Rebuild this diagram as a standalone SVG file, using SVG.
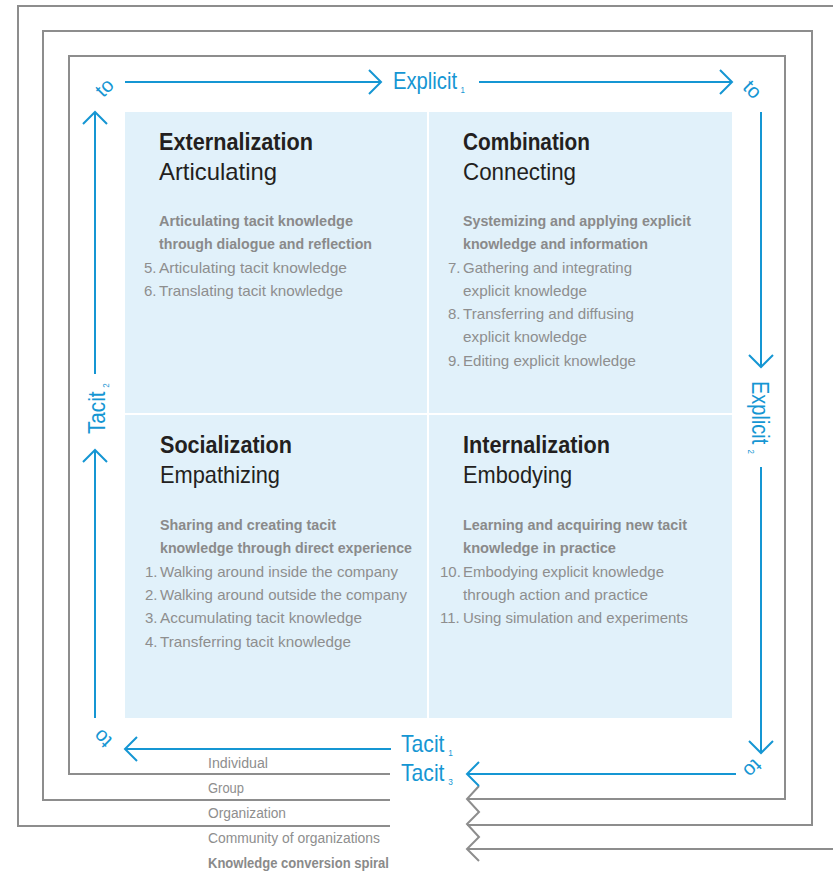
<svg xmlns="http://www.w3.org/2000/svg" width="833" height="874" viewBox="0 0 833 874">
<style>
.g{fill:none;stroke:#8d8d8d;stroke-width:2}
.b{fill:none;stroke:#1596d3;stroke-width:2}
text{font-family:"Liberation Sans Narrow","Liberation Sans",Arial,sans-serif}
.t{font-size:24px;font-weight:bold;fill:#231f20}
.s{font-size:24px;fill:#231f20}
.h{font-size:15px;font-weight:bold;fill:#8a8a8a}
.i{font-size:15px;fill:#8e8e8e}
.l{font-size:14px;fill:#8e8e8e}
.lb{font-size:14px;font-weight:bold;fill:#8a8a8a}
.bl{font-size:23px;fill:#1596d3}
.sub{font-size:9px}
.to{font-size:20px;fill:#1596d3}
</style>
<rect x="0" y="0" width="833" height="874" fill="#ffffff"/>
<g id="spiral">
<path class="g" d="M390,774 H69 V56 H785 V799 H467"/>
<path class="g" d="M390,800 H43 V31 H812 V825 H467"/>
<path class="g" d="M390,826 H18 V6 H840"/>
<path class="g" d="M467,849 H840"/>
<path class="g" d="M479,786 L467,799 L479,812 L467,824 L479,837 L467,849 L479,861"/>
</g>
<g id="panel">
<rect x="125" y="112" width="607" height="606" fill="#e1f1fa"/>
<rect x="427" y="112" width="2" height="606" fill="#ffffff"/>
<rect x="125" y="413" width="607" height="2" fill="#ffffff"/>
</g>
<g id="connectors">
<path class="b" d="M125,82 H381 M369,70 L381,82 L369,94"/>
<path class="b" d="M479,82 H732 M720,70 L732,82 L720,94"/>
<path class="b" d="M761,112 V367 M749,355 L761,367 L773,355"/>
<path class="b" d="M761,467 V753 M749,741 L761,753 L773,741"/>
<path class="b" d="M736,774 H467 M479,762 L467,774 L479,786"/>
<path class="b" d="M391,749 H125 M137,737 L125,749 L137,761"/>
<path class="b" d="M95,718 V450 M83,462 L95,450 L107,462"/>
<path class="b" d="M95,374 V112 M83,124 L95,112 L107,124"/>
</g>
<g id="axis-labels">
<text class="bl" transform="translate(393,89) scale(0.88,1)">Explicit<tspan class="sub" dx="4" dy="4">1</tspan></text>
<text class="bl" transform="translate(401,752) scale(0.92,1)">Tacit<tspan class="sub" dx="4" dy="4">1</tspan></text>
<text class="bl" transform="translate(401,781) scale(0.92,1)">Tacit<tspan class="sub" dx="4" dy="4">3</tspan></text>
<text class="bl" transform="translate(105,434) rotate(-90) scale(0.9,1)">Tacit<tspan class="sub" dx="4" dy="4">2</tspan></text>
<text class="bl" transform="translate(752,381) rotate(90) scale(0.87,1)">Explicit<tspan class="sub" dx="6" dy="4">2</tspan></text>
<text class="to" text-anchor="middle" transform="translate(105,88) rotate(-45)" y="6">to</text>
<text class="to" text-anchor="middle" transform="translate(752,90) rotate(45)" y="6">to</text>
<text class="to" text-anchor="middle" transform="translate(752,768) rotate(135)" y="6">to</text>
<text class="to" text-anchor="middle" transform="translate(103,738) rotate(-135)" y="6">to</text>
</g>
<g id="externalization">
<text class="t" x="159" y="150" textLength="154" lengthAdjust="spacingAndGlyphs">Externalization</text>
<text class="s" x="159" y="180" textLength="118" lengthAdjust="spacingAndGlyphs">Articulating</text>
<text class="h" x="159" y="226" textLength="194" lengthAdjust="spacingAndGlyphs">Articulating tacit knowledge</text>
<text class="h" x="159" y="249" textLength="213" lengthAdjust="spacingAndGlyphs">through dialogue and reflection</text>
<text class="i" x="144" y="273">5.</text>
<text class="i" x="159" y="273" textLength="188" lengthAdjust="spacingAndGlyphs">Articulating tacit knowledge</text>
<text class="i" x="144" y="296">6.</text>
<text class="i" x="159" y="296" textLength="184" lengthAdjust="spacingAndGlyphs">Translating tacit knowledge</text>
</g>
<g id="combination">
<text class="t" x="463" y="150" textLength="127" lengthAdjust="spacingAndGlyphs">Combination</text>
<text class="s" x="463" y="180" textLength="113" lengthAdjust="spacingAndGlyphs">Connecting</text>
<text class="h" x="463" y="226" textLength="228" lengthAdjust="spacingAndGlyphs">Systemizing and applying explicit</text>
<text class="h" x="463" y="249" textLength="185" lengthAdjust="spacingAndGlyphs">knowledge and information</text>
<text class="i" x="448" y="273">7.</text>
<text class="i" x="463" y="273" textLength="169" lengthAdjust="spacingAndGlyphs">Gathering and integrating</text>
<text class="i" x="463" y="296" textLength="124" lengthAdjust="spacingAndGlyphs">explicit knowledge</text>
<text class="i" x="448" y="319">8.</text>
<text class="i" x="463" y="319" textLength="171" lengthAdjust="spacingAndGlyphs">Transferring and diffusing</text>
<text class="i" x="463" y="342" textLength="124" lengthAdjust="spacingAndGlyphs">explicit knowledge</text>
<text class="i" x="448" y="366">9.</text>
<text class="i" x="463" y="366" textLength="173" lengthAdjust="spacingAndGlyphs">Editing explicit knowledge</text>
</g>
<g id="socialization">
<text class="t" x="160" y="453" textLength="132" lengthAdjust="spacingAndGlyphs">Socialization</text>
<text class="s" x="160" y="483" textLength="120" lengthAdjust="spacingAndGlyphs">Empathizing</text>
<text class="h" x="160" y="530" textLength="176" lengthAdjust="spacingAndGlyphs">Sharing and creating tacit</text>
<text class="h" x="160" y="553" textLength="252" lengthAdjust="spacingAndGlyphs">knowledge through direct experience</text>
<text class="i" x="145" y="577">1.</text>
<text class="i" x="160" y="577" textLength="238" lengthAdjust="spacingAndGlyphs">Walking around inside the company</text>
<text class="i" x="145" y="600">2.</text>
<text class="i" x="160" y="600" textLength="247" lengthAdjust="spacingAndGlyphs">Walking around outside the company</text>
<text class="i" x="145" y="623">3.</text>
<text class="i" x="160" y="623" textLength="202" lengthAdjust="spacingAndGlyphs">Accumulating tacit knowledge</text>
<text class="i" x="145" y="647">4.</text>
<text class="i" x="160" y="647" textLength="191" lengthAdjust="spacingAndGlyphs">Transferring tacit knowledge</text>
</g>
<g id="internalization">
<text class="t" x="463" y="453" textLength="147" lengthAdjust="spacingAndGlyphs">Internalization</text>
<text class="s" x="463" y="483" textLength="109" lengthAdjust="spacingAndGlyphs">Embodying</text>
<text class="h" x="463" y="530" textLength="224" lengthAdjust="spacingAndGlyphs">Learning and acquiring new tacit</text>
<text class="h" x="463" y="553" textLength="153" lengthAdjust="spacingAndGlyphs">knowledge in practice</text>
<text class="i" x="440" y="577">10.</text>
<text class="i" x="463" y="577" textLength="201" lengthAdjust="spacingAndGlyphs">Embodying explicit knowledge</text>
<text class="i" x="463" y="600" textLength="185" lengthAdjust="spacingAndGlyphs">through action and practice</text>
<text class="i" x="440" y="623">11.</text>
<text class="i" x="463" y="623" textLength="225" lengthAdjust="spacingAndGlyphs">Using simulation and experiments</text>
</g>
<g id="levels">
<text class="l" x="208" y="768" textLength="60" lengthAdjust="spacingAndGlyphs">Individual</text>
<text class="l" x="208" y="793" textLength="36" lengthAdjust="spacingAndGlyphs">Group</text>
<text class="l" x="208" y="818" textLength="78" lengthAdjust="spacingAndGlyphs">Organization</text>
<text class="l" x="208" y="843" textLength="172" lengthAdjust="spacingAndGlyphs">Community of organizations</text>
<text class="lb" x="208" y="868" textLength="181" lengthAdjust="spacingAndGlyphs">Knowledge conversion spiral</text>
</g>
</svg>
